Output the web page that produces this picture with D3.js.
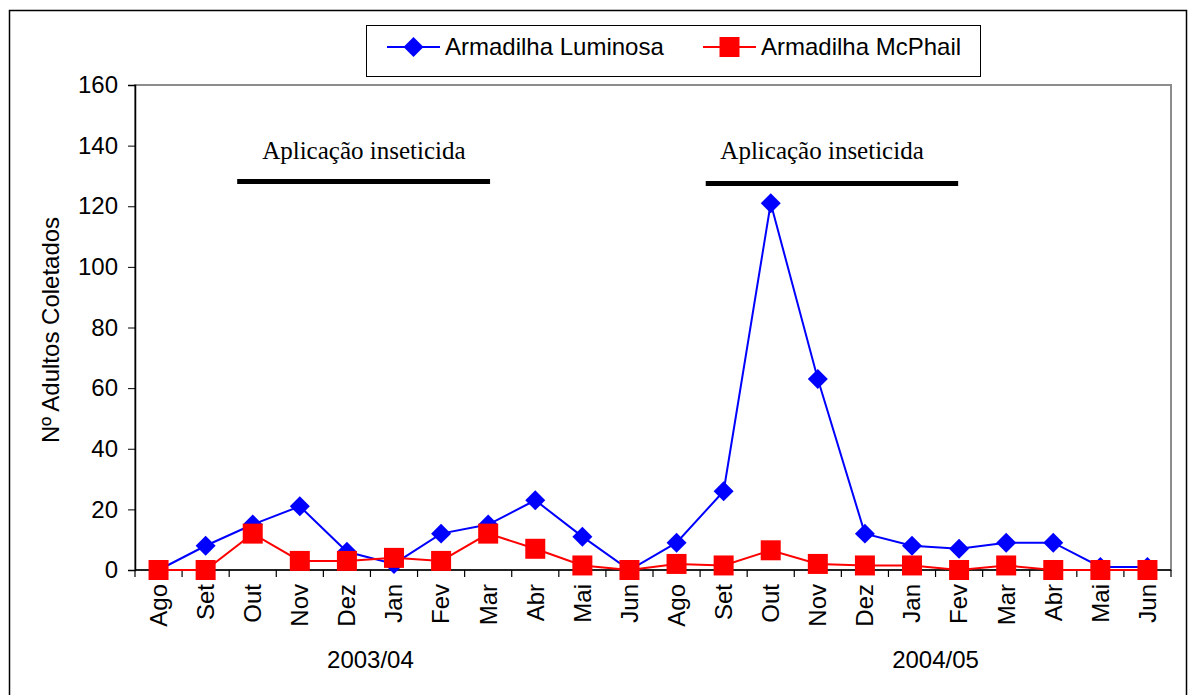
<!DOCTYPE html>
<html>
<head>
<meta charset="utf-8">
<script src="https://cdn.jsdelivr.net/npm/d3@7"></script>
<style>
  body { margin: 0; background: #fff; }
  svg { display: block; }
  text { font-family: 'Liberation Sans', Arial, sans-serif; fill: #000; }
  .serif { font-family: 'Liberation Serif', 'Times New Roman', serif; }
</style>
</head>
<body>
<script>

// meses de cada safra (sem julho)
let meses = ['Ago','Set','Out','Nov','Dez','Jan','Fev','Mar','Abr','Mai','Jun'];
let safras = ['2003/04','2004/05'];

// Nº de adultos coletados por armadilha
let luminosa = [0, 8, 15, 21, 6, 2, 12, 15, 23, 11, 0,
                9, 26, 121, 63, 12, 8, 7, 9, 9, 1, 1];
let mcphail  = [0, 0, 12, 3, 3, 4, 3, 12, 7, 1.5, 0,
                2, 1.5, 6.5, 2, 1.5, 1.5, 0, 1.5, 0, 0, 0];

let yTicks = [0, 20, 40, 60, 80, 100, 120, 140, 160];

// periodos de aplicação (em unidades de mes: inicio, fim, nivel, centro do texto)
let aplicacoes = [[2.17, 7.54, 128.2, 4.86], [12.12, 17.48, 127.5, 14.59]];

let width = 1190, height = 695;
let margin = {left: 135, top: 85, right: 1171, bottom: 570};
let fs = '24px';

let categorias = [];
safras.forEach((s, si) => meses.forEach(m => categorias.push(si + '-' + m)));

let svg = d3.select('body').append('svg')
  .attr('width', width)
  .attr('height', height)
  ;

// borda externa
svg.append('rect')
  .attr('x', 9.5).attr('y', 10.5)
  .attr('width', 1177).attr('height', 700)
  .attr('fill', 'none')
  .attr('stroke', '#000')
  .attr('stroke-width', 1.5)
  ;

let x = d3.scaleBand()
  .domain(categorias)
  .range([margin.left, margin.right])
  ;

let xu = d3.scaleLinear()
  .domain([0, categorias.length])
  .range([margin.left, margin.right])
  ;

let y = d3.scaleLinear()
  .domain([0, 160])
  .range([margin.bottom, margin.top])
  ;

// borda da area do grafico
svg.append('rect')
  .attr('x', margin.left).attr('y', margin.top)
  .attr('width', margin.right - margin.left)
  .attr('height', margin.bottom - margin.top)
  .attr('fill', 'none')
  .attr('stroke', '#8c8c8c')
  .attr('stroke-width', 2)
  ;

// eixo y
let yAxis = svg.append('g')
  .attr('transform', 'translate(' + margin.left + ',0)')
  .call(d3.axisLeft(y).tickValues(yTicks).tickSize(7).tickPadding(10))
  ;
yAxis.selectAll('text').style('font-size', fs);
yAxis.select('.domain').attr('stroke', '#000').attr('stroke-width', 1.5);

// eixo x: ticks nas divisas dos meses
let xAxisG = svg.append('g');
xAxisG.append('line')
  .attr('x1', margin.left).attr('x2', margin.right)
  .attr('y1', y(0)).attr('y2', y(0))
  .attr('stroke', '#000').attr('stroke-width', 1.5)
  ;
xAxisG.selectAll('line.tk')
  .data(d3.range(categorias.length + 1))
  .enter()
    .append('line')
    .attr('class', 'tk')
    .attr('x1', d => xu(d)).attr('x2', d => xu(d))
    .attr('y1', y(0)).attr('y2', y(0) + 7)
    .attr('stroke', '#000').attr('stroke-width', 1.2)
    ;
xAxisG.selectAll('text.mes')
  .data(categorias)
  .enter()
    .append('text')
    .attr('class', 'mes')
    .attr('transform', d => 'translate(' + (x(d) + x.bandwidth() / 2) + ',' + (y(0) + 14) + ') rotate(-90)')
    .attr('text-anchor', 'end')
    .attr('dy', '0.35em')
    .style('font-size', fs)
    .text(d => d.split('-')[1])
    ;

svg.selectAll('text.safra')
  .data(safras)
  .enter()
    .append('text')
    .attr('class', 'safra')
    .attr('x', (d, i) => xu(5 + i * 12))
    .attr('y', 668)
    .attr('text-anchor', 'middle')
    .style('font-size', fs)
    .text(d => d)
    ;

// titulo do eixo y
svg.append('text')
  .attr('transform', 'translate(59,330) rotate(-90)')
  .attr('text-anchor', 'middle')
  .style('font-size', fs)
  .text('Nº Adultos Coletados')
  ;

// barras de aplicação de inseticida
aplicacoes.forEach(a => {
  svg.append('line')
    .attr('x1', xu(a[0])).attr('x2', xu(a[1]))
    .attr('y1', y(a[2])).attr('y2', y(a[2]))
    .attr('stroke', '#000').attr('stroke-width', 5)
    ;
  svg.append('text')
    .attr('class', 'serif')
    .attr('x', xu(a[3]))
    .attr('y', y(135.5))
    .attr('text-anchor', 'middle')
    .style('font-size', '25px')
    .text('Aplicação inseticida')
    ;
});

let line = d3.line()
  .x((d, i) => x(categorias[i]) + x.bandwidth() / 2)
  .y(d => y(d))
  ;

let diamond = d3.symbol().type(d3.symbolSquare).size(200);
let square = d3.symbol().type(d3.symbolSquare).size(400);

function drawSerie(data, color, marker, rot){
  svg.append('path')
    .datum(data)
    .attr('d', line)
    .attr('fill', 'none')
    .attr('stroke', color)
    .attr('stroke-width', 2)
    ;
  svg.selectAll(null)
    .data(data)
    .enter()
      .append('path')
      .attr('d', marker)
      .attr('transform', (d, i) => 'translate(' + (x(categorias[i]) + x.bandwidth() / 2) + ',' + y(d) + ') rotate(' + rot + ')')
      .attr('fill', color)
      ;
}

drawSerie(luminosa, '#0000ff', diamond, 45);
drawSerie(mcphail, '#ff0000', square, 0);

// legenda
let leg = svg.append('g');
leg.append('rect')
  .attr('x', 366.5).attr('y', 25.5)
  .attr('width', 614).attr('height', 51)
  .attr('fill', '#fff')
  .attr('stroke', '#000')
  .attr('stroke-width', 1)
  ;
let itens = [
  {nome: 'Armadilha Luminosa', cor: '#0000ff', marker: diamond, rot: 45, x: 387},
  {nome: 'Armadilha McPhail', cor: '#ff0000', marker: square, rot: 0, x: 703}
];
itens.forEach(it => {
  leg.append('line')
    .attr('x1', it.x).attr('x2', it.x + 53)
    .attr('y1', 47).attr('y2', 47)
    .attr('stroke', it.cor).attr('stroke-width', 2)
    ;
  leg.append('path')
    .attr('d', it.marker)
    .attr('transform', 'translate(' + (it.x + 26.5) + ',47) rotate(' + it.rot + ')')
    .attr('fill', it.cor)
    ;
  leg.append('text')
    .attr('x', it.x + 58)
    .attr('y', 47)
    .attr('dy', '0.35em')
    .style('font-size', fs)
    .text(it.nome)
    ;
});

</script>
</body>
</html>
